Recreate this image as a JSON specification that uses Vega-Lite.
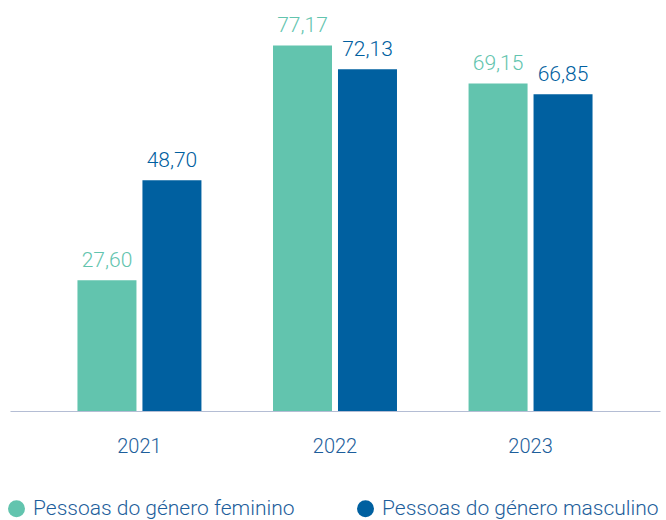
{
  "$schema": "https://vega.github.io/schema/vega-lite/v6.json",
  "width": 650,
  "height": 379,
  "autosize": {"type": "none"},
  "padding": {"left": 10, "top": 32, "right": 6, "bottom": 109},
  "background": "white",
  "config": {
    "view": {"stroke": null},
    "font": "Roboto",
    "locale": {"number": {"decimal": ",", "thousands": ".", "grouping": [3], "currency": ["", " €"]}}
  },
  "data": {
    "values": [
      {"ano": "2021", "genero": "Pessoas do género feminino", "valor": 27.60},
      {"ano": "2021", "genero": "Pessoas do género masculino", "valor": 48.70},
      {"ano": "2022", "genero": "Pessoas do género feminino", "valor": 77.17},
      {"ano": "2022", "genero": "Pessoas do género masculino", "valor": 72.13},
      {"ano": "2023", "genero": "Pessoas do género feminino", "valor": 69.15},
      {"ano": "2023", "genero": "Pessoas do género masculino", "valor": 66.85}
    ]
  },
  "encoding": {
    "x": {
      "field": "ano", "type": "nominal", "title": null,
      "scale": {"paddingInner": 0.366, "paddingOuter": 0.345},
      "axis": {
        "labelAngle": 0, "ticks": false, "domainColor": "#b4bdd4", "domainWidth": 1.2,
        "labelFontSize": 20, "labelColor": "#1d5e9b", "labelFont": "Roboto", "labelFontWeight": 300,
        "labelBaseline": "alphabetic", "labelPadding": 41, "grid": false
      }
    },
    "xOffset": {"field": "genero", "type": "nominal", "scale": {"paddingInner": 0.092, "paddingOuter": 0}},
    "y": {"field": "valor", "type": "quantitative", "scale": {"domain": [0, 80]}, "axis": null},
    "color": {
      "field": "genero", "type": "nominal",
      "scale": {"domain": ["Pessoas do género feminino", "Pessoas do género masculino"], "range": ["#62c4ae", "#0060a0"]},
      "legend": {
        "title": null, "orient": "none", "direction": "horizontal",
        "legendX": -4, "legendY": 466,
        "symbolType": "circle", "symbolSize": 289, "symbolStrokeWidth": 0, "symbolOpacity": 1,
        "labelFontSize": 21, "labelColor": "#1d5e9b", "labelFont": "Roboto", "labelFontWeight": 300,
        "labelOffset": 6, "columnPadding": 60, "labelLimit": 400
      }
    }
  },
  "layer": [
    {"mark": {"type": "bar"}},
    {
      "mark": {"type": "text", "baseline": "alphabetic", "dy": -13, "fontSize": 21, "font": "Roboto", "fontWeight": 300},
      "encoding": {"text": {"field": "valor", "type": "quantitative", "format": ".2f"}}
    }
  ]
}
